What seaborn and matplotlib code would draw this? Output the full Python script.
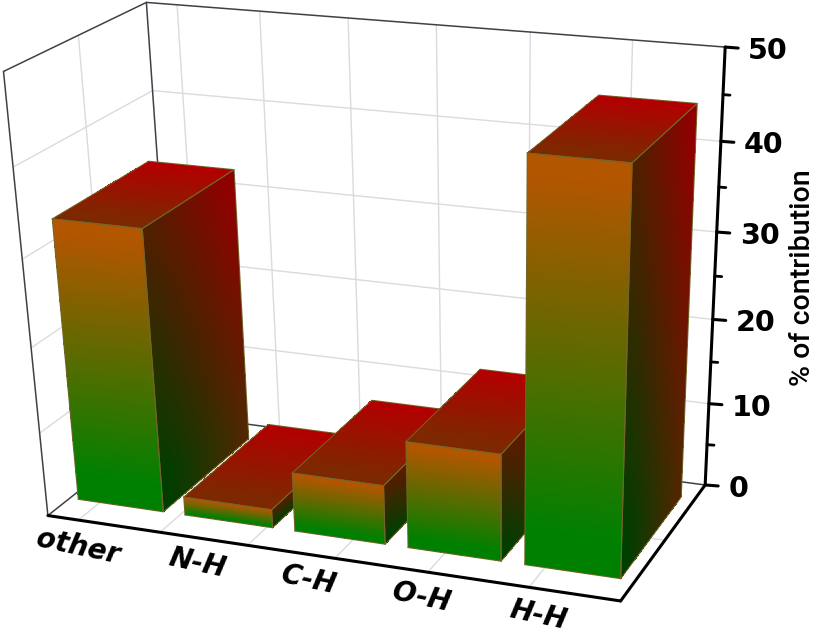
import numpy as np
import seaborn as sns
import matplotlib
matplotlib.use("Agg")
import matplotlib.pyplot as plt

categories = ["other", "N-H", "C-H", "O-H", "H-H"]
values = [33, 2.2, 7, 12.5, 45]
z_major = [0, 10, 20, 30, 40, 50]
z_minor = [5, 15, 25, 35, 45]
grid_x = [0.785, 1.54, 2.33, 3.1, 3.9, 4.75]  # vertical grid lines on back wall / floor

bar_width = 0.80
bar_front = 0.16
bar_back = 0.87
label_shift = [0, 10, 8, 5, 2]

# box corners (x, depth, z) and where they sit in the picture, used to fit the camera
box_3d = [(0.5, 0, 0), (5.5, 0, 0), (5.5, 1, 0), (0.5, 1, 0), (0.5, 0, 50), (0.5, 1, 50), (5.5, 1, 50)]
box_px = [(48, 515), (621, 601), (705, 485), (175, 415), (3, 72), (147, 2), (725, 47)]

sns.set_theme(style="white")


def fit_camera(pts3d, pts2d):
    rows = []
    for (x, y, z), (u, v) in zip(pts3d, pts2d):
        rows.append([x, y, z, 1, 0, 0, 0, 0, -u * x, -u * y, -u * z, -u])
        rows.append([0, 0, 0, 0, x, y, z, 1, -v * x, -v * y, -v * z, -v])
    _, _, vt = np.linalg.svd(np.array(rows, dtype=float))
    return vt[-1].reshape(3, 4)


cam = fit_camera(box_3d, box_px)


def project(x, y, z):
    x, y, z = np.broadcast_arrays(x, y, z)
    p = np.stack([x, y, z, np.ones_like(x, dtype=float)], axis=-1) @ cam.T
    return p[..., 0] / p[..., 2], p[..., 1] / p[..., 2]


def line3d(a, b, **kw):
    u, v = project(np.array([a[0], b[0]], float), np.array([a[1], b[1]], float), np.array([a[2], b[2]], float))
    ax.plot(u, v, solid_capstyle="round", **kw)


def face(corners, colors, zorder, n=60):
    # corners: 00, 10, 01, 11 in 3d. colors the same order
    s, t = np.meshgrid(np.linspace(0, 1, n + 1), np.linspace(0, 1, n + 1))
    c = np.array(corners, float)
    pts = ((1 - s) * (1 - t))[..., None] * c[0] + (s * (1 - t))[..., None] * c[1] \
        + ((1 - s) * t)[..., None] * c[2] + (s * t)[..., None] * c[3]
    u, v = project(pts[..., 0], pts[..., 1], pts[..., 2])
    sm, tm = (s[:-1, :-1] + s[1:, 1:]) / 2, (t[:-1, :-1] + t[1:, 1:]) / 2
    # colours sit flat near the ends of a face
    sm = np.clip((sm - 0.08) / 0.84, 0, 1)
    tm = np.clip((tm - 0.1) / 0.85, 0, 1)
    col = np.array(colors, float) / 255
    rgb = ((1 - sm) * (1 - tm))[..., None] * col[0] + (sm * (1 - tm))[..., None] * col[1] \
        + ((1 - sm) * tm)[..., None] * col[2] + (sm * tm)[..., None] * col[3]
    ax.pcolormesh(u, v, rgb, shading="flat", antialiased=False, zorder=zorder, rasterized=True)
    edge = np.array([c[0], c[1], c[3], c[2], c[0]])
    eu, ev = project(edge[:, 0], edge[:, 1], edge[:, 2])
    ax.plot(eu, ev, color="#75662a", lw=0.7, zorder=zorder + 0.1)


fig = plt.figure(figsize=(8.27, 6.35), dpi=100)
ax = fig.add_axes([0, 0, 1, 1])
ax.set_xlim(0, 827)
ax.set_ylim(635, 0)
ax.axis("off")

grid_c = sns.light_palette("#c4c4d0", n_colors=3)[1]

# grid lines on the walls and the floor
for gx in grid_x:
    line3d((gx, 1, 0), (gx, 1, 50), color=grid_c, lw=1, zorder=1)
    line3d((gx, 0, 0), (gx, 1, 0), color=grid_c, lw=1, zorder=1)
for z in z_major[1:-1]:
    line3d((0.5, 1, z), (5.5, 1, z), color=grid_c, lw=1, zorder=1)
    line3d((0.5, 0, z), (0.5, 1, z), color=grid_c, lw=1, zorder=1)
line3d((0.5, 0.5, 0), (0.5, 0.5, 50), color=grid_c, lw=1, zorder=1)
line3d((0.5, 0.5, 0), (5.5, 0.5, 0), color=grid_c, lw=1, zorder=1)

# box outline
for a, b in [((0.5, 0, 50), (0.5, 1, 50)), ((0.5, 1, 50), (5.5, 1, 50)), ((0.5, 0, 0), (0.5, 0, 50)),
             ((0.5, 1, 0), (0.5, 1, 50)), ((0.5, 0, 0), (0.5, 1, 0)), ((0.5, 1, 0), (5.5, 1, 0))]:
    line3d(a, b, color="#404048", lw=1.1, zorder=2)
line3d((0.5, 0, 0), (5.5, 0, 0), color="black", lw=2.2, zorder=20)
line3d((5.5, 0, 0), (5.5, 1, 0), color="black", lw=2.2, zorder=20)
line3d((5.5, 1, 0), (5.5, 1, 50), color="black", lw=2.2, zorder=20)

# z ticks
for z, label in zip(z_major, z_major):
    u, v = project(5.5, 1.0, float(z))
    ax.plot([u, u + 13], [v, v + 1], color="black", lw=2.2, zorder=20)
    ax.text(u + 23, v + 4, str(label), ha="left", va="center", fontsize=20.5, fontweight="bold",
            family="DejaVu Sans", color="black")
for z in z_minor:
    u, v = project(5.5, 1.0, float(z))
    ax.plot([u, u + 7], [v, v + 0.5], color="black", lw=2, zorder=20)

ax.text(803, 278, "% of contribution", rotation=90, ha="center", va="center", fontsize=20.5,
        family="Roboto", fontweight="medium", color="black")

# colours of each face corner (bottom -> top)
front_colors = [(0, 128, 0), (0, 128, 0), (178, 86, 0), (178, 86, 0)]
side_colors = [(0, 62, 0), (80, 38, 0), (78, 32, 0), (145, 0, 0)]
top_colors = [(125, 40, 0), (125, 40, 0), (178, 0, 0), (178, 0, 0)]

# bars, left to right so the later ones cover the earlier side faces
for i, (cat, val) in enumerate(zip(categories, values)):
    x0 = i + 1 - bar_width / 2 - 0.02
    x1 = x0 + bar_width
    y0, y1 = bar_front, bar_back
    zo = 5 + i
    face([(x0, y0, 0), (x1, y0, 0), (x0, y0, val), (x1, y0, val)], front_colors, zo)
    face([(x1, y0, 0), (x1, y1, 0), (x1, y0, val), (x1, y1, val)], side_colors, zo)
    face([(x0, y0, val), (x1, y0, val), (x0, y1, val), (x1, y1, val)], top_colors, zo)

    u, v = project(float(i + 1), 0.0, 0.0)
    ax.text(u - 23 + label_shift[i], v + 23, cat, rotation=-12, ha="center", va="center", fontsize=20,
            fontweight="bold", fontstyle="italic", family="DejaVu Sans", color="black",
            rotation_mode="anchor")

fig.savefig("out.png", dpi=100)
